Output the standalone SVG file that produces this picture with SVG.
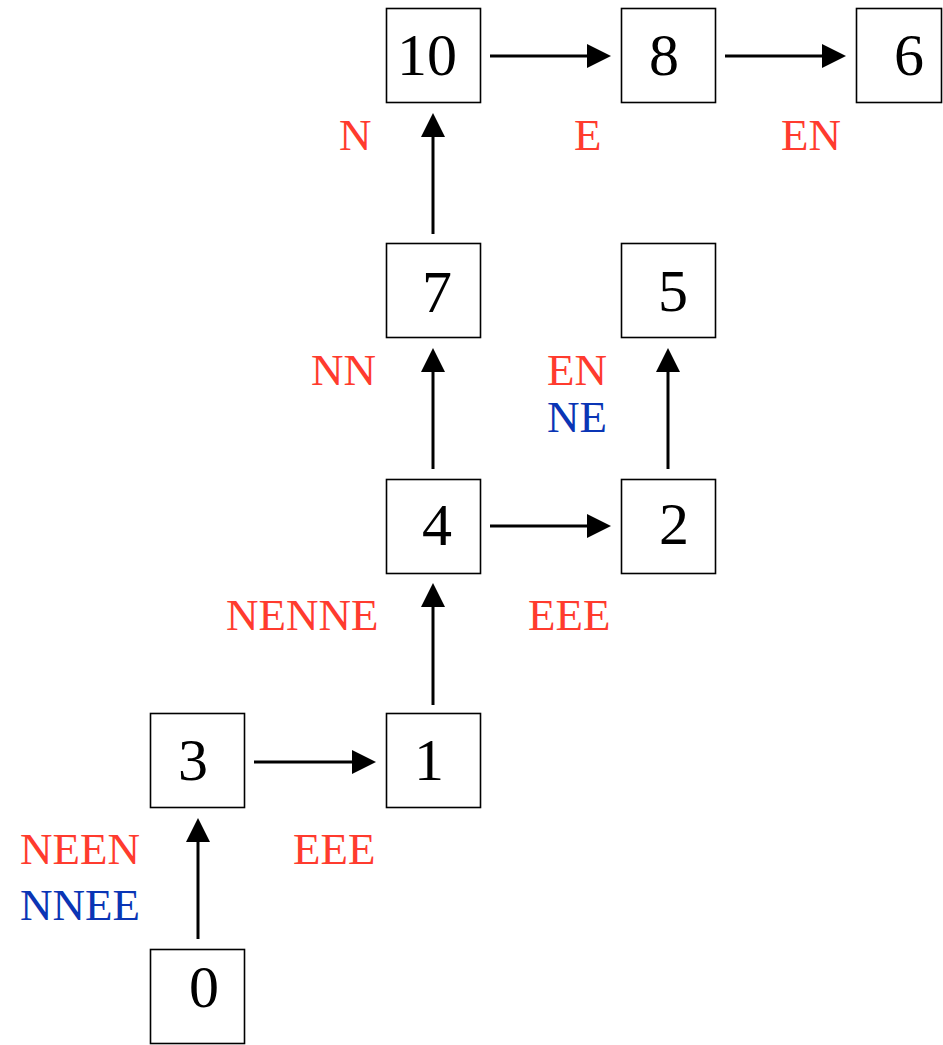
<svg xmlns="http://www.w3.org/2000/svg" width="943" height="1045" viewBox="0 0 943 1045">
<style>
.box{fill:#fff;stroke:#000;stroke-width:1.6}
.num{font-family:"Liberation Serif",serif;font-size:60px;fill:#000;text-anchor:middle}
.lbl{font-family:"Liberation Serif",serif;font-size:45px}
.r{fill:#FF3B2E}
.b{fill:#0A35B5}
.edge{stroke:#000;stroke-width:3;fill:none;marker-end:url(#ah)}
</style>
<defs>
<marker id="ah" viewBox="0 0 24 24" markerWidth="24" markerHeight="24" refX="4" refY="12" orient="auto" markerUnits="userSpaceOnUse">
<path d="M0,0 L24,12 L0,24 Z" fill="#000"/>
</marker>
</defs>
<rect width="943" height="1045" fill="#fff"/>
<g id="connectors">
<path class="edge" d="M490,56 H591"/>
<path class="edge" d="M725,56 H826"/>
<path class="edge" d="M433,234 V133"/>
<path class="edge" d="M433,469 V368"/>
<path class="edge" d="M668,469 V368"/>
<path class="edge" d="M490,526 H591"/>
<path class="edge" d="M433,705 V603"/>
<path class="edge" d="M254,762 H356"/>
<path class="edge" d="M198,939 V838"/>
</g>
<g id="labels">
<text class="lbl r" x="339" y="150">N</text>
<text class="lbl r" x="574" y="150">E</text>
<text class="lbl r" x="781" y="150">EN</text>
<text class="lbl r" x="311" y="385">NN</text>
<text class="lbl r" x="547" y="385">EN</text>
<text class="lbl b" x="547" y="432">NE</text>
<text class="lbl r" x="226" y="630">NENNE</text>
<text class="lbl r" x="528" y="630">EEE</text>
<text class="lbl r" x="20" y="864">NEEN</text>
<text class="lbl b" x="20" y="920">NNEE</text>
<text class="lbl r" x="293" y="864">EEE</text>
</g>
<g id="node10"><rect class="box" x="386.5" y="8.5" width="94" height="94"/><text class="num" x="427" y="75">10</text></g>
<g id="node8"><rect class="box" x="621.5" y="8.5" width="94" height="94"/><text class="num" x="664" y="75">8</text></g>
<g id="node6"><rect class="box" x="856.5" y="8.5" width="85" height="94"/><text class="num" x="909" y="75">6</text></g>
<g id="node7"><rect class="box" x="386.5" y="243.5" width="94" height="94"/><text class="num" x="437" y="312">7</text></g>
<g id="node5"><rect class="box" x="621.5" y="243.5" width="94" height="94"/><text class="num" x="673" y="311">5</text></g>
<g id="node4"><rect class="box" x="386.5" y="479.5" width="94" height="94"/><text class="num" x="437" y="545">4</text></g>
<g id="node2"><rect class="box" x="621.5" y="479.5" width="94" height="94"/><text class="num" x="674" y="544">2</text></g>
<g id="node3"><rect class="box" x="150.5" y="713.5" width="94" height="94"/><text class="num" x="193" y="780">3</text></g>
<g id="node1"><rect class="box" x="386.5" y="713.5" width="94" height="94"/><text class="num" x="429" y="780">1</text></g>
<g id="node0"><rect class="box" x="150.5" y="949.5" width="94" height="94"/><text class="num" x="204" y="1007">0</text></g>
</svg>
